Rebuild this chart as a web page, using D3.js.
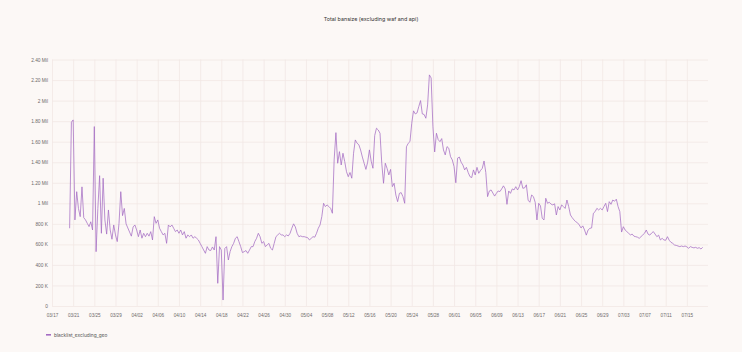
<!DOCTYPE html>
<html lang="en">
<head>
<meta charset="UTF-8">
<title>Total bansize</title>
<script src="https://cdn.jsdelivr.net/npm/d3@7/dist/d3.min.js"></script>
<style>
  body { margin: 0; background: #fcf8f6; }
  svg { display: block; font-family: Inter, "Noto Sans", sans-serif; }
</style>
</head>
<body>
<script>
// series: one value every 8 hours, in thousands
const seriesName = "blacklist_excluding_geo";
const seriesStart = "2024-03-20 08:00";
const stepHours = 8;
const bansizeK = [
  757,1790,1812,838,1113,950,870,1160,860,838,805,773,820,740,1747,
  529,950,1269,708,1244,838,700,935,740,650,789,692,627,805,1113,
  880,950,800,760,720,680,770,789,740,675,740,660,708,675,708,
  680,724,643,870,805,838,757,724,692,708,610,789,770,789,757,
  724,740,708,740,692,724,660,692,675,692,660,675,660,643,610,
  578,545,513,578,545,540,575,545,675,221,578,545,58,560,578,
  448,530,578,610,659,675,627,578,520,529,540,513,545,578,578,
  627,659,708,675,610,627,578,594,610,562,545,610,675,692,708,
  692,692,675,692,682,708,757,800,770,708,675,682,675,675,670,
  665,643,659,675,670,708,757,789,870,1000,968,984,968,951,903,
  1422,1688,1390,1503,1373,1487,1406,1308,1259,1300,1244,1487,1617,1585,1570,
  1519,1450,1390,1330,1400,1520,1410,1341,1660,1731,1714,1682,1390,1195,1390,
  1340,1276,1330,1162,1195,1080,1016,1097,1104,1065,1000,1550,1584,1601,1779,
  1900,1870,1880,1942,2000,1870,1865,1828,1958,2250,2220,1750,1500,1682,1620,
  1600,1630,1519,1471,1552,1536,1454,1422,1357,1200,1440,1450,1400,1373,1325,
  1350,1300,1260,1250,1325,1276,1350,1292,1320,1340,1412,1300,1065,1120,1130,
  1100,1070,1097,1120,1114,1140,1170,1140,990,1120,1097,1140,1130,1162,1130,
  1162,1220,1146,1150,1180,1030,1010,1081,1065,1010,838,1000,975,854,838,
  1049,1000,1010,992,984,995,886,968,935,984,968,950,1032,968,886,
  860,838,821,810,789,760,780,740,690,740,756,760,903,919,951,
  935,951,935,968,1000,919,1016,990,1032,1020,1040,968,919,720,772,
  740,724,708,692,700,680,675,670,659,675,692,708,740,700,690,
  710,724,700,675,690,643,659,643,640,675,640,620,610,594,590,
  584,578,584,578,584,576,562,578,571,566,571,562,568,555,571
];

const xDomain = ["2024-03-17 00:00", "2024-07-19 00:00"];
const xTickLabels = ["03/17","03/21","03/25","03/29","04/02","04/06","04/10","04/14",
  "04/18","04/22","04/26","04/30","05/04","05/08","05/12","05/16","05/20","05/24",
  "05/28","06/01","06/05","06/09","06/13","06/17","06/21","06/25","06/29","07/03",
  "07/07","07/11","07/15"];
const yTicks = [0,200000,400000,600000,800000,1000000,1200000,1400000,1600000,1800000,2000000,2200000,2400000];
const yTickLabels = ["0","200 K","400 K","600 K","800 K","1 Mil","1.20 Mil","1.40 Mil",
  "1.60 Mil","1.80 Mil","2 Mil","2.20 Mil","2.40 Mil"];

const width = 742, height = 352;
const plotLeft = 52, plotRight = 708, plotTop = 59.5, plotBottom = 306;
const lineColor = "#a46cc3";

const parseTime = d3.timeParse("%Y-%m-%d %H:%M");
const parseTick = d3.timeParse("%Y/%m/%d");
const t0 = parseTime(seriesStart);
const data = bansizeK.map((v, i) => ({ t: d3.timeHour.offset(t0, i * stepHours), v: v * 1000 }));
const xTicks = xTickLabels.map(s => parseTick("2024/" + s));

const x = d3.scaleTime().domain(xDomain.map(parseTime)).range([plotLeft, plotRight]);
const y = d3.scaleLinear().domain([0, 2400000]).range([plotBottom, plotTop]);

const svg = d3.select("body").append("svg")
  .attr("width", width)
  .attr("height", height);

svg.append("rect").attr("width", width).attr("height", height).attr("fill", "#fcf8f6");

// y axis + horizontal grid
const yAxis = svg.append("g")
  .attr("transform", "translate(" + plotLeft + ",0)")
  .call(d3.axisLeft(y).tickValues(yTicks).tickSize(-(plotRight - plotLeft)).tickPadding(4)
    .tickFormat((d, i) => yTickLabels[i]));
yAxis.select(".domain").remove();
yAxis.selectAll("line").attr("stroke", "#f1e7e4").attr("stroke-width", 0.8);
yAxis.selectAll("text").attr("fill", "#6e6a6a").style("font-size", "4.8px");

// x axis + vertical grid
const xAxis = svg.append("g")
  .attr("transform", "translate(0," + plotBottom + ")")
  .call(d3.axisBottom(x).tickValues(xTicks).tickSize(-(plotBottom - plotTop)).tickPadding(8)
    .tickFormat((d, i) => xTickLabels[i]));
xAxis.select(".domain").remove();
xAxis.selectAll("line").attr("stroke", "#f1e7e4").attr("stroke-width", 0.8);
xAxis.selectAll("text").attr("fill", "#6e6a6a").style("font-size", "4.6px");

// the series
svg.append("path")
  .datum(data)
  .attr("fill", "none")
  .attr("stroke", lineColor)
  .attr("stroke-width", 0.75)
  .attr("stroke-linejoin", "round")
  .attr("d", d3.line().x(d => x(d.t)).y(d => y(d.v)));

// title
svg.append("text")
  .attr("x", width / 2)
  .attr("y", 21)
  .attr("text-anchor", "middle")
  .attr("fill", "#333")
  .style("font-size", "5.4px")
  .text("Total bansize (excluding waf and api)");

// legend
svg.append("rect")
  .attr("x", 46).attr("y", 334)
  .attr("width", 5).attr("height", 1.6)
  .attr("fill", lineColor);
svg.append("text")
  .attr("x", 54).attr("y", 336.5)
  .attr("fill", "#555")
  .style("font-size", "4.8px")
  .text(seriesName);
</script>
</body>
</html>
